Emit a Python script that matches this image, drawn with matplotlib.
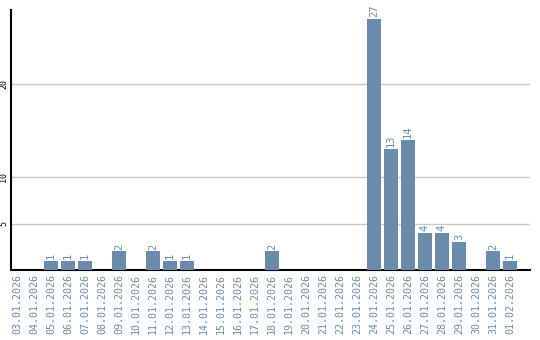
import matplotlib
matplotlib.use("Agg")
import matplotlib.pyplot as plt

dates = ["03.01.2026", "04.01.2026", "05.01.2026", "06.01.2026", "07.01.2026",
         "08.01.2026", "09.01.2026", "10.01.2026", "11.01.2026", "12.01.2026",
         "13.01.2026", "14.01.2026", "15.01.2026", "16.01.2026", "17.01.2026",
         "18.01.2026", "19.01.2026", "20.01.2026", "21.01.2026", "22.01.2026",
         "23.01.2026", "24.01.2026", "25.01.2026", "26.01.2026", "27.01.2026",
         "28.01.2026", "29.01.2026", "30.01.2026", "31.01.2026", "01.02.2026"]
counts = [0, 0, 1, 1, 1, 0, 2, 0, 2, 1,
          1, 0, 0, 0, 0, 2, 0, 0, 0, 0,
          0, 27, 13, 14, 4, 4, 3, 0, 2, 1]
y_ticks = [5, 10, 20]

bar_color = "#6a8bab"

fig = plt.figure(figsize=(5.4, 3.4), dpi=100)
ax = fig.add_axes([0.0204, 0.206, 0.961, 0.765])

x = list(range(len(dates)))
ax.bar(x, counts, width=0.82, color=bar_color, zorder=3)

# value labels above non-zero bars
for xi, c in zip(x, counts):
    if c > 0:
        ax.text(xi, c + 0.2, str(c), rotation=90, ha="center", va="bottom",
                color=bar_color, fontsize=7.5, family="DejaVu Sans Mono")

ax.set_xlim(-0.35, 30.18)
ax.set_ylim(0, 28)
ax.set_yticks(y_ticks)
ax.set_yticklabels([str(t) for t in y_ticks], rotation=90, va="center",
                   fontsize=6, family="DejaVu Sans Mono")
ax.set_xticks(x)
ax.set_xticklabels(dates, rotation=90, fontsize=7.2, color=bar_color,
                   family="DejaVu Sans Mono")
ax.tick_params(length=0, pad=3)
ax.tick_params(axis="y", pad=2)

ax.grid(axis="y", color="#c8c8c8", linewidth=1, zorder=0)
ax.spines["top"].set_visible(False)
ax.spines["right"].set_visible(False)
ax.spines["left"].set_linewidth(1.5)
ax.spines["bottom"].set_linewidth(1.5)

fig.savefig("out.png", dpi=100)
